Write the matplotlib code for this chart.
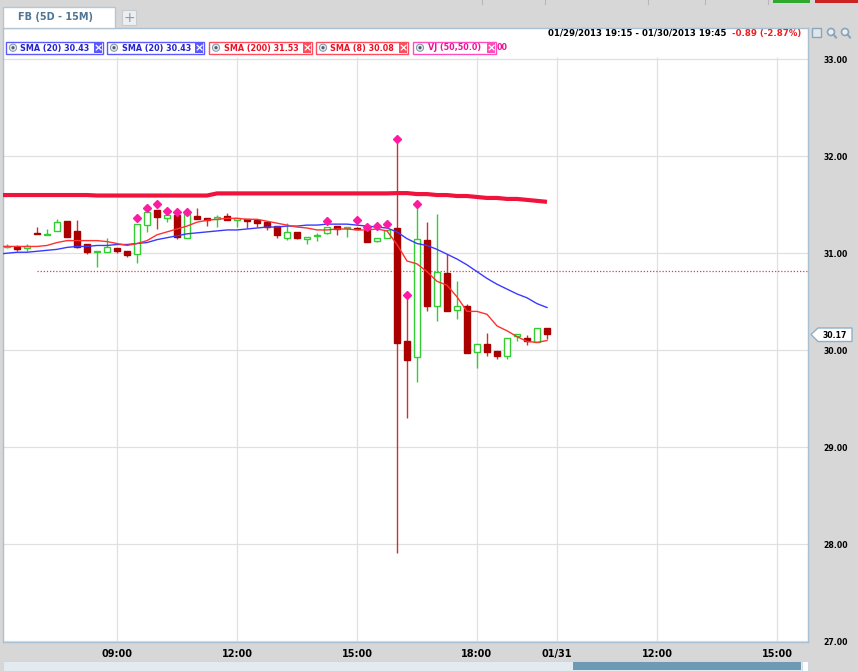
import matplotlib.pyplot as plt
from matplotlib.patches import Rectangle, Polygon, Circle
import numpy as np

# 15-minute bars, FB 01/29/2013 - 01/30/2013
opens = [31.06, 31.06, 31.05, 31.21, 31.19, 31.23, 31.33, 31.23, 31.09, 31.01,
         31.01, 31.05, 31.02, 30.99, 31.29, 31.45, 31.36, 31.39, 31.16, 31.38,
         31.36, 31.35, 31.38, 31.34, 31.35, 31.34, 31.32, 31.28, 31.16, 31.22,
         31.15, 31.18, 31.21, 31.28, 31.26, 31.26, 31.24, 31.13, 31.16, 31.26,
         30.09, 29.93, 31.14, 30.46, 30.80, 30.41, 30.46, 29.98, 30.06, 29.99,
         29.94, 30.15, 30.13, 30.08, 30.23]
highs = [31.09, 31.08, 31.09, 31.27, 31.25, 31.35, 31.33, 31.34, 31.09, 31.02,
         31.16, 31.05, 31.02, 31.30, 31.43, 31.45, 31.39, 31.39, 31.40, 31.47,
         31.36, 31.39, 31.42, 31.36, 31.35, 31.34, 31.32, 31.28, 31.31, 31.22,
         31.17, 31.21, 31.27, 31.28, 31.27, 31.27, 31.24, 31.16, 31.24, 32.18,
         30.57, 31.51, 31.32, 31.40, 30.99, 30.71, 30.48, 30.06, 30.18, 29.99,
         30.13, 30.17, 30.16, 30.23, 30.23]
lows = [31.05, 31.02, 31.02, 31.20, 31.19, 31.23, 31.17, 31.05, 30.99, 30.86,
        31.01, 31.00, 30.96, 30.90, 31.22, 31.25, 31.32, 31.15, 31.16, 31.35,
        31.28, 31.27, 31.34, 31.27, 31.26, 31.27, 31.24, 31.16, 31.14, 31.15,
        31.09, 31.13, 31.20, 31.19, 31.17, 31.25, 31.12, 31.12, 31.16, 27.91,
        29.30, 29.67, 30.40, 30.30, 30.40, 30.32, 29.97, 29.82, 29.94, 29.91,
        29.91, 30.09, 30.05, 30.08, 30.12]
closes = [31.07, 31.04, 31.07, 31.20, 31.20, 31.32, 31.17, 31.06, 31.01, 31.02,
          31.06, 31.02, 30.98, 31.30, 31.43, 31.37, 31.39, 31.17, 31.40, 31.35,
          31.34, 31.37, 31.34, 31.36, 31.33, 31.31, 31.27, 31.19, 31.22, 31.16,
          31.17, 31.19, 31.27, 31.25, 31.27, 31.25, 31.12, 31.16, 31.24, 30.07,
          29.90, 31.15, 30.46, 30.81, 30.40, 30.46, 29.97, 30.06, 29.98, 29.94,
          30.13, 30.16, 30.09, 30.23, 30.17]

# moving averages include one bar before the first visible candle
sma8 = [31.07, 31.07, 31.07, 31.07, 31.07, 31.08, 31.11, 31.13, 31.13, 31.13, 31.13,
        31.12, 31.10, 31.08, 31.10, 31.13, 31.19, 31.22, 31.25, 31.28, 31.32,
        31.34, 31.35, 31.36, 31.36, 31.35, 31.35, 31.33, 31.31, 31.29, 31.27,
        31.26, 31.24, 31.24, 31.25, 31.25, 31.24, 31.24, 31.25, 31.23, 31.09,
        30.92, 30.89, 30.81, 30.71, 30.67, 30.55, 30.40, 30.40, 30.37, 30.25,
        30.20, 30.14, 30.09, 30.08, 30.10]
sma20 = [30.99, 31.00, 31.01, 31.01, 31.02, 31.03, 31.04, 31.06, 31.07, 31.07, 31.08,
         31.08, 31.09, 31.09, 31.10, 31.11, 31.14, 31.16, 31.18, 31.20, 31.21,
         31.22, 31.23, 31.24, 31.24, 31.25, 31.26, 31.27, 31.27, 31.28, 31.28,
         31.29, 31.29, 31.30, 31.30, 31.30, 31.29, 31.28, 31.27, 31.26, 31.22,
         31.15, 31.10, 31.08, 31.04, 30.99, 30.94, 30.88, 30.81, 30.74, 30.68,
         30.63, 30.58, 30.54, 30.48, 30.44]
sma200 = [31.60] * 10 + [31.595] * 12 + [31.617] * 18 + [
          31.62, 31.62, 31.61, 31.61, 31.60, 31.60, 31.59, 31.59, 31.58, 31.57,
          31.57, 31.56, 31.56, 31.55, 31.54, 31.53]

signal_bars = [13, 14, 15, 16, 17, 18, 32, 35, 36, 37, 38, 39, 40, 41]
signal_prices = [31.36, 31.47, 31.51, 31.44, 31.43, 31.43, 31.33, 31.34,
                 31.27, 31.28, 31.30, 32.18, 30.57, 31.51]

prev_close = 30.815
last_price = 30.17

tick_pos = [9, 12, 15, 18, 20, 22.5, 25.5]
tick_labels = ['09:00', '12:00', '15:00', '18:00', '01/31', '12:00', '15:00']
price_ticks = [27, 28, 29, 30, 31, 32, 33]

legend_labels = ['SMA (20) 30.43', 'SMA (20) 30.43', 'SMA (200) 31.53',
                 'SMA (8) 30.08', 'VJ (50,50.0)']
legend_edges = ['#5a5aff', '#5a5aff', '#ff4d5e', '#ff4d5e', '#ff4dbb']
legend_text = ['#2323d0', '#2323d0', '#ee1122', '#ee1122', '#ee1199']
legend_x = [(6, 103), (107, 204), (209, 312), (316, 408), (413, 496)]

GREEN = '#33cc33'
RED_BODY = '#aa0000'
RED_WICK = '#d03030'
narrow = ['Liberation Sans Narrow', 'DejaVu Sans']

fig = plt.figure(figsize=(8.58, 6.72), dpi=100, facecolor='#d7d7d7')
ax = fig.add_axes([3 / 858, 30 / 672, 805 / 858, 614 / 672])
ax.set_facecolor('white')
ax.set_xlim(6.15, 26.275)
ax.set_ylim(26.99, 33.323)

bar_x = 6.25 + 0.25 * np.arange(len(opens))
ma_x = 6.0 + 0.25 * np.arange(len(sma8))

# grid
for p in price_ticks:
    ax.axhline(p, color='#e0e0e0', lw=0.9, zorder=0)
ax.vlines(tick_pos, 26.99, 33.02, color='#e0e0e0', lw=0.9, zorder=0)

# previous close
ax.plot([7.0, 26.275], [prev_close, prev_close], color='#e83a3a', lw=0.9,
        dashes=(1, 1.5), zorder=1)

# candles
w = 0.17
for x, o, h, l, c in zip(bar_x, opens, highs, lows, closes):
    up = c >= o
    lo, hi = min(o, c), max(o, c)
    ht = max(hi - lo, 0.012)
    ax.vlines(x, l, h, color=GREEN if up else RED_WICK, lw=1, zorder=3)
    if up:
        ax.add_patch(Rectangle((x - w / 2, lo), w, ht, facecolor='white',
                               edgecolor=GREEN, lw=1, zorder=4))
    else:
        ax.add_patch(Rectangle((x - w / 2, lo), w, ht, facecolor=RED_BODY,
                               edgecolor=RED_BODY, lw=1, zorder=4))

# moving averages
ax.plot(ma_x, sma200, color='#f0143c', lw=3.0, zorder=5, solid_capstyle='butt')
ax.plot(ma_x, sma20, color='#3a3aff', lw=1, zorder=5)
ax.plot(ma_x, sma8, color='#ff3030', lw=1, zorder=5)

# VJ signals
ax.plot(bar_x[signal_bars], signal_prices, 'D', color='#ff1aa3', ms=4.5,
        mec='#ff1aa3', zorder=6)

# axes styling
ax.set_xticks(tick_pos)
ax.set_xticklabels(tick_labels, family=narrow, fontweight='bold', fontsize=7)
ax.tick_params(axis='x', length=0, pad=5)
ax.yaxis.tick_right()
ax.set_yticks(price_ticks)
ax.set_yticklabels(['%.2f' % p for p in price_ticks], fontweight='bold',
                   fontsize=5.6)
ax.tick_params(axis='y', length=0, pad=11)
for s in ax.spines.values():
    s.set_color('#a9c0d2')
    s.set_linewidth(1)

# overlay in pixel coordinates for the chart frame decorations
ov = fig.add_axes([0, 0, 1, 1], zorder=10)
ov.set_xlim(0, 858)
ov.set_ylim(672, 0)
ov.axis('off')
ov.patch.set_alpha(0)

# top toolbar sliver
ov.add_patch(Rectangle((773, 0), 37, 3, facecolor='#2fa82f', lw=0))
ov.add_patch(Rectangle((815, 0), 43, 3, facecolor='#cc2222', lw=0))
for sx in [482, 545, 648, 705, 768]:
    ov.plot([sx, sx], [0, 4], color='#b8b8b8', lw=0.8)

# tab
ov.add_patch(Rectangle((3, 7), 112, 21, facecolor='white', edgecolor='#b5c7d5', lw=1))
ov.text(55, 17.5, 'FB (5D - 15M)', color='#4f7694', fontsize=7,
        fontweight='bold', ha='center', va='center')
ov.add_patch(Rectangle((122, 10), 14, 15, facecolor='#eeeeee', edgecolor='#c3ccd4', lw=0.8))
ov.text(129, 17.5, '+', color='#7f9db6', fontsize=10, ha='center', va='center')

# legend chips
for (x0, x1), lab, ec, tc in zip(legend_x, legend_labels, legend_edges, legend_text):
    ov.add_patch(Rectangle((x0, 41.5), x1 - x0, 12.5, facecolor='white',
                           edgecolor=ec, lw=1))
    ov.add_patch(Circle((x0 + 7, 47.7), 3.6, facecolor='#e6e9ec',
                        edgecolor='#8094a6', lw=0.7))
    ov.add_patch(Circle((x0 + 7, 47.7), 1.6, facecolor='#4d5f70', lw=0))
    ov.text(x0 + 14.5, 48, lab, color=tc, fontsize=5.8, fontweight='bold',
            ha='left', va='center')
    ov.add_patch(Rectangle((x1 - 9, 42.5), 8, 10.5, facecolor=ec, lw=0))
    ov.text(x1 - 5, 47.8, '×', color='white', fontsize=8, fontweight='bold',
            ha='center', va='center')
ov.text(497, 48, '00', color='#ee1199', fontsize=5.8, fontweight='bold',
        ha='left', va='center')

# date range and change
ov.text(726, 33.5, '01/29/2013 19:15 - 01/30/2013 19:45', color='black',
        fontsize=6.2, fontweight='bold', ha='right', va='center')
ov.text(732, 33.5, '-0.89 (-2.87%)', color='#ee2020', fontsize=6.2,
        fontweight='bold', ha='left', va='center')

# toolbar icons at top right
ov.add_patch(Rectangle((812, 28), 9, 9, facecolor='#dfe6ec', edgecolor='#8aa4b8', lw=1))
for cx in [831, 845]:
    ov.add_patch(Circle((cx, 32), 3.5, facecolor='#e8eef3', edgecolor='#8aa4b8', lw=1.2))
    ov.plot([cx + 2.5, cx + 5], [34.5, 37.5], color='#8aa4b8', lw=1.5)

# last price box
ov.add_patch(Polygon([(811, 334.5), (818, 328), (852, 328), (852, 341.5), (818, 341.5)],
                     closed=True, facecolor='white', edgecolor='#8fb0c8', lw=1))
ov.text(835, 335, '%.2f' % last_price, color='black', fontsize=5.6,
        fontweight='bold', ha='center', va='center')

# scrollbar
ov.add_patch(Rectangle((3, 661), 805, 10, facecolor='#e3ebf1', edgecolor='#c9d6e0', lw=0.6))
ov.add_patch(Rectangle((573, 662), 228, 8, facecolor='#6f9ab4', lw=0))
ov.add_patch(Rectangle((802, 661), 6, 10, facecolor='white', edgecolor='#c9d6e0', lw=0.6))

plt.savefig('out.png', dpi=100, facecolor=fig.get_facecolor())
